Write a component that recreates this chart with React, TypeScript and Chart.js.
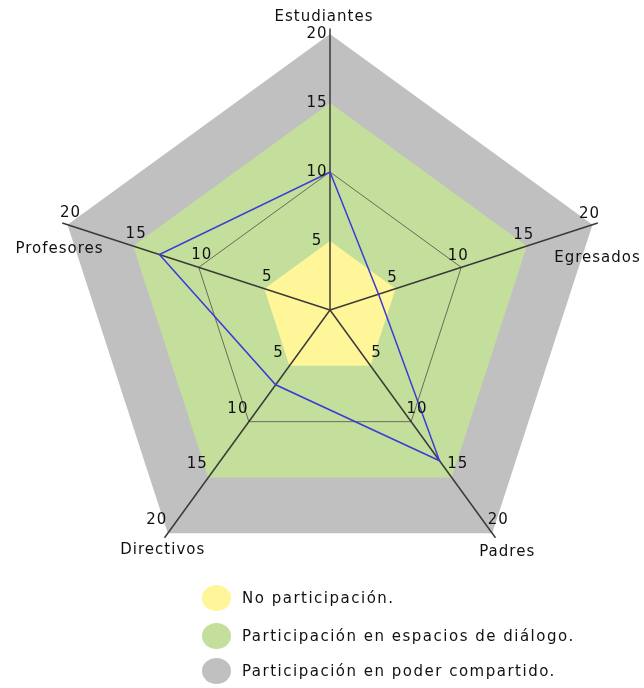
import React, { useEffect, useRef } from "react";
import { Chart, registerables } from "chart.js";

Chart.register(...registerables);

const axes = ["Estudiantes", "Egresados", "Padres", "Directivos", "Profesores"];
const noParticipacion = [5, 5, 5, 5, 5];
const espaciosDialogo = [15, 15, 15, 15, 15];
const poderCompartido = [20, 20, 20, 20, 20];
const valoracion = [10, 3.7, 13.5, 6.7, 13];
const tickValues = [5, 10, 15, 20];
const legendLabels = [
  "No participación.",
  "Participación en espacios de diálogo.",
  "Participación en poder compartido.",
];

const YELLOW = "#fff699";
const GREEN = "#c4df9b";
const GRAY = "#c0c0c0";
const BLUE = "#3b3bd8";
const FONT = '"DejaVu Sans", sans-serif';

// per-axis offsets for tick labels and axis titles (styling)
const tickOffsets = [
  [-13, 0],
  [-3, -11],
  [6, -13],
  [-11, -13],
  [3, -12],
];
const titleOffsets = [
  [-6, -17],
  [5, 33],
  [15, 19],
  [-5, 17],
  [-8, 24],
];

const overlayPlugin = {
  id: "overlay",
  beforeDatasetDraw(chart: any, args: any) {
    if (args.index !== 0) return;
    const s = chart.scales.r;
    const ctx = chart.ctx;
    ctx.save();
    // grid pentagon at 10
    ctx.beginPath();
    axes.forEach((_, i) => {
      const p = s.getPointPositionForValue(i, 10);
      if (i === 0) ctx.moveTo(p.x, p.y);
      else ctx.lineTo(p.x, p.y);
    });
    ctx.closePath();
    ctx.strokeStyle = "#6a6a5a";
    ctx.lineWidth = 1;
    ctx.stroke();
    // axis lines
    ctx.strokeStyle = "#3a3a3a";
    ctx.lineWidth = 1.5;
    axes.forEach((_, i) => {
      const p = s.getPointPositionForValue(i, 20.4);
      ctx.beginPath();
      ctx.moveTo(s.xCenter, s.yCenter);
      ctx.lineTo(p.x, p.y);
      ctx.stroke();
    });
    ctx.restore();
  },
  afterDraw(chart: any) {
    const s = chart.scales.r;
    const ctx = chart.ctx;
    ctx.save();
    ctx.fillStyle = "#111";
    ctx.textAlign = "center";
    ctx.textBaseline = "middle";
    ctx.font = `15px ${FONT}`;
    try {
      (ctx as any).letterSpacing = "1px";
    } catch (e) {}
    axes.forEach((name, i) => {
      tickValues.forEach((v) => {
        const p = s.getPointPositionForValue(i, v);
        ctx.fillText(String(v), p.x + tickOffsets[i][0], p.y + tickOffsets[i][1]);
      });
      const q = s.getPointPositionForValue(i, 20);
      ctx.fillText(name, q.x + titleOffsets[i][0], q.y + titleOffsets[i][1]);
    });
    ctx.restore();
  },
};

export default function App() {
  const ref = useRef<HTMLCanvasElement | null>(null);

  useEffect(() => {
    if (!ref.current) return;
    const chart = new Chart(ref.current, {
      type: "radar",
      data: {
        labels: axes,
        datasets: [
          {
            label: "Valoración",
            data: valoracion,
            borderColor: BLUE,
            borderWidth: 1.5,
            backgroundColor: "transparent",
            fill: false,
            pointRadius: 0,
          },
          {
            label: legendLabels[0],
            data: noParticipacion,
            backgroundColor: YELLOW,
            borderWidth: 0,
            fill: "origin",
            pointRadius: 0,
          },
          {
            label: legendLabels[1],
            data: espaciosDialogo,
            backgroundColor: GREEN,
            borderWidth: 0,
            fill: "origin",
            pointRadius: 0,
          },
          {
            label: legendLabels[2],
            data: poderCompartido,
            backgroundColor: GRAY,
            borderWidth: 0,
            fill: "origin",
            pointRadius: 0,
          },
        ],
      },
      options: {
        animation: false,
        responsive: false,
        layout: { padding: { left: 54, right: 38, top: 34, bottom: 14 } },
        elements: { line: { tension: 0 } },
        plugins: {
          legend: { display: false },
          tooltip: { enabled: false },
        },
        scales: {
          r: {
            min: 0,
            max: 20,
            ticks: { display: false, stepSize: 5 },
            grid: { display: false },
            angleLines: { display: false },
            pointLabels: { display: false },
          },
        },
      },
      plugins: [overlayPlugin],
    } as any);
    return () => chart.destroy();
  }, []);

  const legendColors = [YELLOW, GREEN, GRAY];
  const legendTops = [598, 636, 671];

  return (
    <div
      style={{
        position: "absolute",
        left: 0,
        top: 0,
        width: 644,
        height: 688,
        background: "#fff",
        fontFamily: FONT,
      }}
    >
      <canvas ref={ref} width={644} height={600} style={{ position: "absolute", left: 0, top: 0 }} />
      {legendLabels.map((t, i) => (
        <div key={t}>
          <div
            style={{
              position: "absolute",
              left: 202,
              top: legendTops[i] - 13,
              width: 29,
              height: 26,
              borderRadius: "50%",
              background: legendColors[i],
            }}
          />
          <div
            style={{
              position: "absolute",
              left: 242,
              top: legendTops[i] - 10,
              fontSize: 15,
              lineHeight: "20px",
              letterSpacing: "1.5px",
              color: "#111",
              whiteSpace: "nowrap",
            }}
          >
            {t}
          </div>
        </div>
      ))}
    </div>
  );
}
